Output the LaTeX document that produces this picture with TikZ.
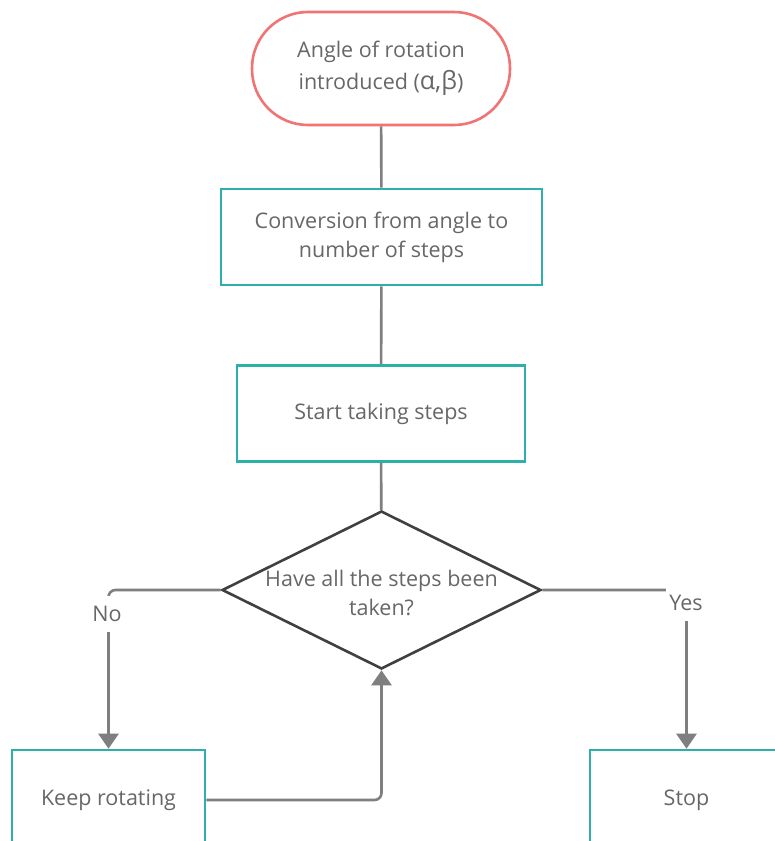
\documentclass[tikz,border=0pt]{standalone}
\usepackage{fontspec}
\setmainfont{Open Sans}
\usetikzlibrary{shapes.geometric,arrows.meta}
\definecolor{teal1}{HTML}{2BB0AA}
\definecolor{red1}{HTML}{F07474}
\definecolor{txt1}{HTML}{676767}
\definecolor{conn1}{HTML}{7F7F7F}
\definecolor{dia1}{HTML}{404040}
\tikzset{
  every node/.style={font=\fontsize{21.5}{29}\selectfont, text=txt1, align=center},
  termbox/.style={draw=red1, line width=2.6pt, rounded corners=56pt, minimum width=258pt, minimum height=113pt, fill=white},
  procbox/.style={draw=teal1, line width=2.6pt, minimum height=96pt, fill=white},
  decbox/.style={draw=dia1, line width=2.6pt, diamond, aspect=2, inner sep=0pt, minimum width=319pt, minimum height=158pt},
  conn/.style={draw=conn1, line width=2.6pt},
  arr/.style={conn, -{Triangle[width=20pt,length=15pt]}, rounded corners=7pt},
  lbl/.style={fill=white, minimum height=36pt, inner xsep=3pt, inner ysep=0pt}
}
\begin{document}
\begin{tikzpicture}[x=1pt,y=-1pt]
\useasboundingbox (0,0) rectangle (775,841);
\clip (0,0) rectangle (775,841);
\fill[white] (0,0) rectangle (775,841);
\node[termbox] (term) at (381,68.5) {Angle of rotation\\[3pt]introduced ({\fontsize{25}{29}\selectfont α,β})};
\node[procbox, minimum width=321pt] (conv) at (381.5,237) {Conversion from angle to\\number of steps};
\node[procbox, minimum width=288pt] (start) at (381,413.5) {Start taking steps};
\node[decbox] (dec) at (381.5,590) {};
\node (dectext) at (381.5,593) {Have all the steps been\\taken?};
\node[procbox, minimum width=193pt, minimum height=100pt] (keep) at (108.5,800) {Keep rotating};
\node[procbox, minimum width=193pt, minimum height=100pt] (stop) at (686.5,800) {Stop};
\draw[conn] (term) -- (conv);
\draw[conn] (conv) -- (start);
\draw[conn] (start) -- (dec);
\draw[arr] (dec.west) -| (keep.north);
\draw[arr] (dec.east) -| (stop.north);
\draw[arr] (keep.east) -| (dec.south);
\node[lbl] (no) at (107,614) {No};
\node[lbl] (yes) at (686,603) {Yes};
\end{tikzpicture}
\end{document}
